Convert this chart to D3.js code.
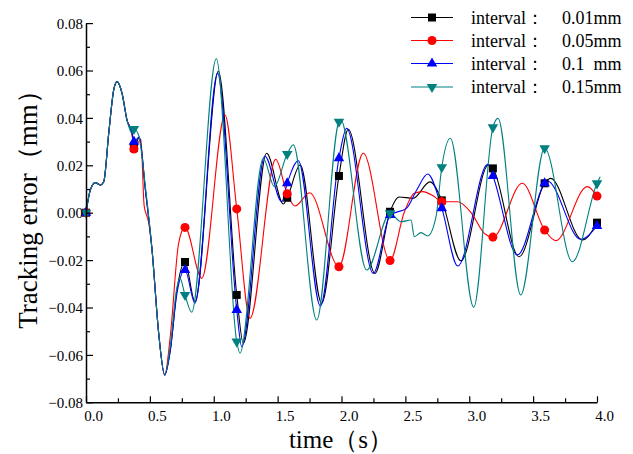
<!DOCTYPE html>
<html>
<head>
<meta charset="utf-8">
<script src="https://cdn.jsdelivr.net/npm/d3@7"></script>
<style>
	body { margin: 0; background: #fff; }
	svg { display: block; }
	text { font-family: "Liberation Serif", "Times New Roman", serif; fill: #000; }
</style>
</head>
<body>
<div id="wrapper"></div>
<script>
// shared start, all four runs sit on top of each other up to ~0.36 s
const startPart = [[0,0],[0.034,0.0096],[0.073,0.0127],[0.112,0.0117],[0.139,0.0131],[0.178,0.0335],[0.217,0.0518],[0.243,0.0553],[0.282,0.0504],[0.321,0.0391],[0.36,0.0335]];

const err001 = [[0.375,0.0273],[0.417,0.0318],[0.465,0.0096],[0.517,-0.0157],[0.569,-0.0509],[0.616,-0.0685],[0.66,-0.058],[0.712,-0.0326],[0.775,-0.0208],[0.853,-0.0375],[1.036,0.0597],[1.18,-0.0347],[1.231,-0.0551],[1.414,0.0251],[1.545,0.0037],[1.575,0.0063],[1.677,0.0201],[1.845,-0.0382],[1.98,0.0155],[2.053,0.0352],[2.262,-0.0256],[2.38,0.0004],[2.45,0.0066],[2.56,0.0061],[2.693,0.013],[2.785,0.0052],[2.935,-0.0203],[3.15,0.0201],[3.185,0.0187],[3.39,-0.0186],[3.59,0.0124],[3.637,0.0145],[3.885,-0.0115],[4.0,-0.0042]];

const err005 = [[0.375,0.0269],[0.43,0.031],[0.455,0.003],[0.49,-0.004],[0.517,-0.0157],[0.569,-0.0509],[0.616,-0.0685],[0.66,-0.052],[0.725,-0.0129],[0.775,-0.0062],[0.906,-0.0277],[1.088,0.0412],[1.18,0.0016],[1.284,-0.0446],[1.485,0.0225],[1.575,0.008],[1.636,0.0028],[1.751,0.0084],[1.98,-0.0228],[2.17,0.0251],[2.38,-0.0202],[2.49,0.0],[2.57,0.0082],[2.636,0.0089],[2.726,0.0068],[2.785,0.0046],[2.91,0.0046],[3.014,0.0],[3.118,-0.0087],[3.185,-0.0103],[3.415,0.0124],[3.59,-0.0073],[3.677,-0.0118],[3.924,0.011],[4.0,0.007]];

const err01 = [[0.375,0.030],[0.417,0.032],[0.465,0.0096],[0.517,-0.0157],[0.569,-0.0509],[0.616,-0.0685],[0.66,-0.058],[0.712,-0.034],[0.775,-0.0242],[0.853,-0.0382],[1.03,0.0588],[1.18,-0.041],[1.219,-0.0565],[1.40,0.0239],[1.532,0.0046],[1.575,0.0124],[1.662,0.0219],[1.835,-0.0394],[1.98,0.023],[2.04,0.0356],[2.249,-0.0256],[2.38,-0.001],[2.51,0.0019],[2.589,0.0096],[2.675,0.0163],[2.785,0.0019],[2.91,-0.0225],[3.145,0.0204],[3.185,0.0155],[3.377,-0.0178],[3.59,0.0124],[3.611,0.0134],[3.872,-0.0112],[4.0,-0.0056]];

const err015 = [[0.375,0.0353],[0.41,0.033],[0.465,0.011],[0.517,-0.0157],[0.569,-0.0509],[0.616,-0.0685],[0.66,-0.056],[0.71,-0.032],[0.736,-0.0277],[0.775,-0.0347],[0.827,-0.042],[1.02,0.065],[1.18,-0.0544],[1.205,-0.0593],[1.388,0.023],[1.474,0.011],[1.575,0.0248],[1.623,0.0286],[1.806,-0.0453],[1.98,0.0384],[1.994,0.0391],[2.197,-0.0242],[2.38,-0.0003],[2.466,-0.0038],[2.544,-0.0031],[2.57,-0.0101],[2.622,-0.0084],[2.675,-0.0098],[2.74,-0.0017],[2.785,0.0192],[2.852,0.0314],[3.035,-0.0399],[3.185,0.036],[3.225,0.0398],[3.403,-0.0347],[3.59,0.0272],[3.807,-0.0207],[4.0,0.0124],[4.025,0.0152]];

// times where the symbols are drawn
const markerTimes = [0, 0.375, 0.775, 1.18, 1.575, 1.98, 2.38, 2.785, 3.185, 3.59, 4.0];

const legendValues = ["0.01mm", "0.05mm", "0.1  mm", "0.15mm"];
const colors = ["#000000", "#ff0000", "#0000ff", "#008080"];

const xTicks = [0, 0.5, 1, 1.5, 2, 2.5, 3, 3.5, 4];
const yTicks = [-0.08, -0.06, -0.04, -0.02, 0, 0.02, 0.04, 0.06, 0.08];

function drawChart() {

	const width = 633;
	const height = 454;

	const series = [err001, err005, err01, err015].map((d, i) => ({
		name: legendValues[i],
		color: colors[i],
		points: startPart.concat(d)
	}));

	const svg = d3.select("#wrapper")
		.append("svg")
		.attr("width", width)
		.attr("height", height);

	// scales
	const xScale = d3.scaleLinear().domain([0, 4]).range([86, 597]);
	const yScale = d3.scaleLinear().domain([-0.08, 0.08]).range([402.3, 23.1]);

	// symbols
	const symbolFor = [
		d3.symbol().type(d3.symbolSquare).size(64),
		d3.symbol().type(d3.symbolCircle).size(64),
		d3.symbol().type(d3.symbolTriangle).size(48),
		d3.symbol().type(d3.symbolTriangle).size(48)
	];
	const rotateFor = [0, 0, 0, 180];

	// lines
	const line = d3.line()
		.x(d => xScale(d[0]))
		.y(d => yScale(d[1]))
		.curve(d3.curveMonotoneX);

	const plot = svg.append("g");

	series.forEach(s => {
		plot.append("path")
			.datum(s.points)
			.attr("fill", "none")
			.attr("stroke", s.color)
			.attr("stroke-width", 1.1)
			.attr("d", line);
	});

	series.forEach((s, i) => {
		const marks = s.points.filter(p => markerTimes.some(t => Math.abs(t - p[0]) < 1e-6));
		plot.selectAll(".m" + i)
			.data(marks)
			.enter()
			.append("path")
			.attr("class", "m" + i)
			.attr("fill", s.color)
			.attr("transform", d => `translate(${xScale(d[0])},${yScale(d[1])}) rotate(${rotateFor[i]})`)
			.attr("d", symbolFor[i]);
	});

	// axes
	const yAxis = svg.append("g")
		.attr("transform", "translate(86,0)")
		.call(d3.axisLeft(yScale).tickValues(yTicks).tickFormat(d3.format(".2f"))
			.tickSizeInner(-7).tickSizeOuter(0).tickPadding(3));
	svg.append("g")
		.attr("transform", "translate(86,0)")
		.call(d3.axisLeft(yScale).tickValues(d3.range(-0.07, 0.08, 0.02)).tickFormat("")
			.tickSizeInner(-4).tickSizeOuter(0))
		.select(".domain").remove();

	const xAxis = svg.append("g")
		.attr("transform", "translate(0,402.3)")
		.call(d3.axisBottom(xScale).tickValues(xTicks).tickFormat(d3.format(".1f"))
			.tickSizeInner(-6).tickSizeOuter(0).tickPadding(8));
	svg.append("g")
		.attr("transform", "translate(0,402.3)")
		.call(d3.axisBottom(xScale).tickValues(d3.range(0.25, 4, 0.5)).tickFormat("")
			.tickSizeInner(-4).tickSizeOuter(0))
		.select(".domain").remove();

	svg.selectAll(".domain").attr("stroke-width", 1.5);
	svg.selectAll(".tick line").attr("stroke-width", 1.2);
	yAxis.selectAll("text").style("font-size", "15px").attr("dy", "0.35em");
	xAxis.selectAll("text").style("font-size", "15px").attr("dx", 7);

	// axis titles
	svg.append("text")
		.attr("x", 341)
		.attr("y", 448)
		.attr("text-anchor", "middle")
		.style("font-size", "25px")
		.text("time（s）");

	svg.append("text")
		.attr("transform", "translate(37,203) rotate(-90)")
		.attr("text-anchor", "middle")
		.style("font-size", "27px")
		.text("Tracking error（mm）");

	// legend
	const legend = svg.append("g");
	const rowY = [17.5, 40.5, 63.5, 87];
	series.forEach((s, i) => {
		const row = legend.append("g").attr("transform", `translate(0,${rowY[i]})`);
		row.append("line")
			.attr("x1", 411).attr("x2", 453)
			.attr("stroke", s.color).attr("stroke-width", 1.1);
		row.append("path")
			.attr("fill", s.color)
			.attr("transform", `translate(432,0) rotate(${rotateFor[i]})`)
			.attr("d", symbolFor[i]);
		row.append("text")
			.attr("x", 471).attr("y", 6)
			.style("font-size", "18px")
			.text("interval：");
		row.append("text")
			.attr("x", 562).attr("y", 6)
			.style("font-size", "18px")
			.style("white-space", "pre")
			.text(s.name);
	});
}

drawChart();
</script>
</body>
</html>
